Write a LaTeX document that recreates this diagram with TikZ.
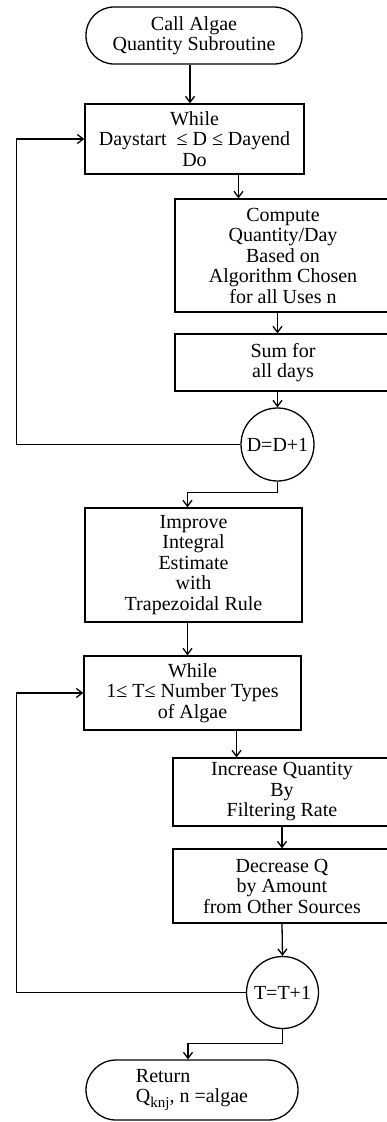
\documentclass[tikz,border=0pt]{standalone}
\usepackage{fontspec}
\usetikzlibrary{arrows.meta}
\setmainfont{Liberation Serif}
\begin{document}
\begin{tikzpicture}[x=1pt,y=-1pt,line width=1.3pt,>={Straight Barb[length=6pt,width=9pt]},
  box/.style={draw,inner sep=0pt,align=center,font=\fontsize{20}{20.5}\selectfont},
  term/.style={box,rounded corners=28pt},
  tick/.style={box,circle,minimum size=73pt}]
\useasboundingbox (0,0) rectangle (386,1122);
\node[term,minimum width=216pt,minimum height=57pt] (start) at (194,35.5) {Call Algae\\Quantity Subroutine};
\node[box,minimum width=219pt,minimum height=70pt] (whileD) at (194.5,139) {While\\Daystart\ \ ≤ D ≤ Dayend\\Do};
\node[box,minimum width=216pt,minimum height=113pt] (compute) at (283,255.5) {Compute\\Quantity/Day\\Based on\\Algorithm Chosen\\for all Uses n};
\node[box,minimum width=216pt,minimum height=57pt] (sumD) at (283,362.5) {Sum for\\all days};
\node[tick] (incD) at (277.5,444.5) {D=D+1};
\node[box,minimum width=217pt,minimum height=114pt] (improve) at (193.5,565) {Improve\\Integral\\Estimate\\with\\Trapezoidal Rule};
\node[box,minimum width=217pt,minimum height=74pt] (whileT) at (192.5,693) {While\\1≤ T≤ Number Types\\of Algae};
\node[box,minimum width=218pt,minimum height=68pt] (increase) at (282,792) {Increase Quantity\\By\\Filtering Rate};
\node[box,minimum width=218pt,minimum height=74pt] (decrease) at (282,886) {Decrease Q\\by Amount\\from Other Sources};
\node[tick,minimum size=72pt] (incT) at (282.5,992.5) {T=T+1};
\node[term,align=left,minimum width=212pt,minimum height=60pt,rounded corners=30pt] (ret) at (192,1090) {Return\\Q\raisebox{-5pt}{\fontsize{15}{15}\selectfont knj}, n =algae};
\draw[->] ([xshift=-4]start.south) -- ([xshift=-4]start.south |- whileD.north);
\draw[->] ([xshift=44]whileD.south) -- ([xshift=44]whileD.south |- compute.north);
\draw[->] (compute.south -| incD) -- (sumD.north -| incD);
\draw[->] (sumD.south -| incD) -- (incD.north);
\draw[->] (incD.west) -| ([xshift=-68]whileD.west) -- (whileD.west);
\draw[->] (incD.south) -- ++(0,11) -| ([xshift=-6]improve.north);
\draw[->] ([xshift=-6]improve.south) -- ([xshift=-6]improve.south |- whileT.north);
\draw[->] ([xshift=44]whileT.south) -- ([xshift=44]whileT.south |- increase.north);
\draw[->] (increase.south) -- (decrease.north);
\draw[->] (decrease.south) -- (incT.north);
\draw[->] (incT.west) -| ([xshift=-67]whileT.west) -- (whileT.west);
\draw[->] (incT.south) -- ++(0,14) -| ([xshift=-4]ret.north);
\end{tikzpicture}
\end{document}
